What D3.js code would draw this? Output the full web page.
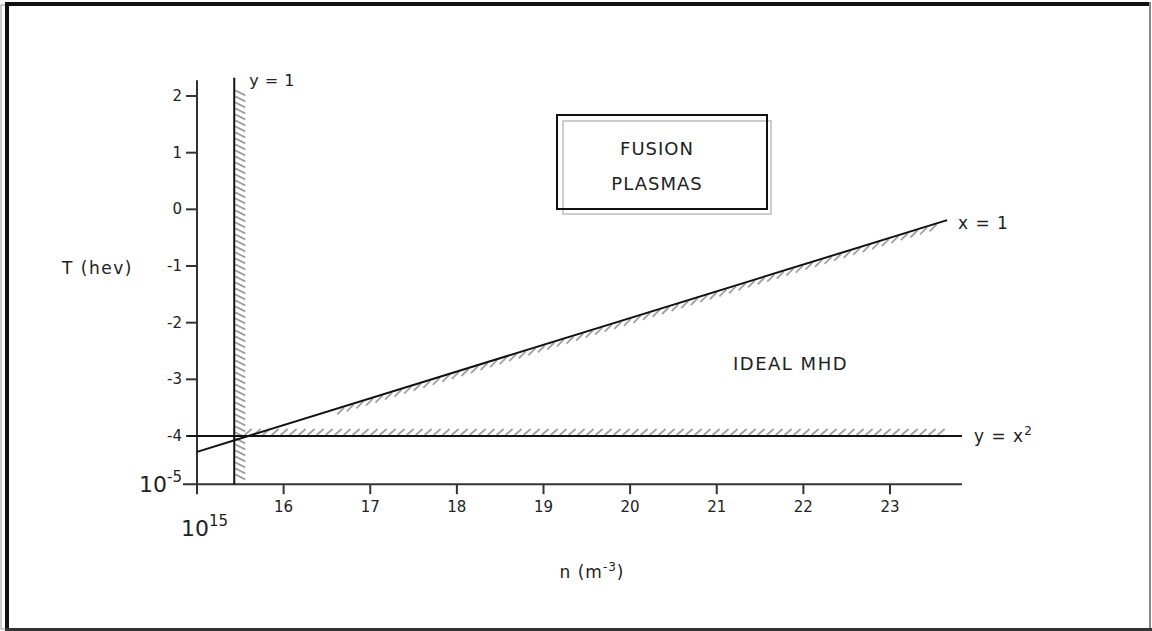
<!DOCTYPE html>
<html>
<head>
<meta charset="utf-8">
<script src="https://cdn.jsdelivr.net/npm/d3@7"></script>
<style>
  body { margin: 0; background: #fff; }
  svg text { font-family: "DejaVu Sans", Verdana, sans-serif; fill: #222; }
</style>
</head>
<body>
<div id="graph"></div>
<script>
const width = 1152, height = 631;
const svg = d3.select("#graph").append("svg").attr("width", width).attr("height", height);

// data (log10 n, log10 T)
const xTicks = [16, 17, 18, 19, 20, 21, 22, 23];
const yTicks = [2, 1, 0, -1, -2, -3, -4];
const xMin = 15, xMax = 23.83;
const yBottom = -4.85, yTop = 2.28;
const lineY1 = {n: 15.43, t0: yBottom, t1: 2.32};          // y = 1 (vertical)
const lineYX2 = {t: -4, n0: 14.9, n1: 23.83};              // y = x^2 (horizontal)
const lineX1 = [{n: 15, t: -4.28}, {n: 23.66, t: -0.19}];  // x = 1 (sloped)

const x = d3.scaleLinear().domain([15, 23]).range([197, 890]);
const y = d3.scaleLinear().domain([-4, 2]).range([436, 96]);

// frame
svg.append("rect").attr("x", 1).attr("y", 5).attr("width", 1149).attr("height", 624)
  .attr("fill", "none").attr("stroke", "#999").attr("stroke-width", 1);
svg.append("line").attr("x1", 5).attr("x2", 1150).attr("y1", 4).attr("y2", 4)
  .attr("stroke", "#111").attr("stroke-width", 4);
svg.append("line").attr("x1", 7).attr("x2", 7).attr("y1", 2).attr("y2", 631)
  .attr("stroke", "#111").attr("stroke-width", 4);
svg.append("line").attr("x1", 1150).attr("x2", 1150).attr("y1", 2).attr("y2", 631)
  .attr("stroke", "#888").attr("stroke-width", 2);
svg.append("line").attr("x1", 5).attr("x2", 1152).attr("y1", 629.5).attr("y2", 629.5)
  .attr("stroke", "#333").attr("stroke-width", 3);

// hatching helper: short strokes along a segment
function hatch(p0, p1, step, dx, dy) {
  const len = Math.hypot(p1[0] - p0[0], p1[1] - p0[1]);
  const n = Math.floor(len / step);
  const g = svg.append("g").attr("stroke", "#a0a0a0").attr("stroke-width", 1.8);
  for (let i = 0; i <= n; i++) {
    const t = i * step / len;
    const px = p0[0] + t * (p1[0] - p0[0]);
    const py = p0[1] + t * (p1[1] - p0[1]);
    g.append("line").attr("x1", px).attr("y1", py).attr("x2", px + dx).attr("y2", py + dy);
  }
}

const tX1 = n => lineX1[0].t + (n - lineX1[0].n) * (lineX1[1].t - lineX1[0].t) / (lineX1[1].n - lineX1[0].n);

// hatches
hatch([x(lineY1.n) + 1, y(2.1)], [x(lineY1.n) + 1, y(yBottom) - 4], 6, 10, 5);
hatch([x(15.55), y(lineYX2.t) - 1], [x(23.6), y(lineYX2.t) - 1], 9, 7, -6);
hatch([x(16.7), y(tX1(16.7)) + 1], [x(23.6), y(tX1(23.6)) + 1], 10, -7, 7);

// y axis
svg.append("line").attr("x1", x(xMin)).attr("x2", x(xMin)).attr("y1", y(yTop)).attr("y2", y(yBottom))
  .attr("stroke", "#333").attr("stroke-width", 2);
svg.selectAll(".ytick").data(yTicks).join("line")
  .attr("x1", x(xMin) - 11).attr("x2", x(xMin)).attr("y1", d => y(d)).attr("y2", d => y(d))
  .attr("stroke", "#333").attr("stroke-width", 2);
svg.selectAll(".ylab").data(yTicks).join("text")
  .attr("x", x(xMin) - 15).attr("y", d => y(d) + 5).attr("text-anchor", "end")
  .attr("font-size", 15).text(d => d);

// x axis
svg.append("line").attr("x1", x(xMin) - 14).attr("x2", x(xMax)).attr("y1", y(yBottom)).attr("y2", y(yBottom))
  .attr("stroke", "#333").attr("stroke-width", 2);
svg.selectAll(".xtick").data([15].concat(xTicks)).join("line")
  .attr("x1", d => x(d)).attr("x2", d => x(d)).attr("y1", y(yBottom)).attr("y2", y(yBottom) + 10)
  .attr("stroke", "#333").attr("stroke-width", 2);
svg.selectAll(".xlab").data(xTicks).join("text")
  .attr("x", d => x(d)).attr("y", y(yBottom) + 28).attr("text-anchor", "middle")
  .attr("font-size", 15).text(d => d);

// large corner labels
const lab5 = svg.append("text").attr("x", x(xMin) - 15).attr("y", y(yBottom) + 8)
  .attr("text-anchor", "end").attr("font-size", 22);
lab5.append("tspan").text("10");
lab5.append("tspan").attr("font-size", 15).attr("dy", -10).text("-5");
const lab15 = svg.append("text").attr("x", 181).attr("y", y(yBottom) + 52).attr("font-size", 22);
lab15.append("tspan").text("10");
lab15.append("tspan").attr("font-size", 15).attr("dy", -10).text("15");

// axis titles
svg.append("text").attr("x", 62).attr("y", 274).attr("font-size", 17).attr("letter-spacing", 1.5).text("T (hev)");
const xt = svg.append("text").attr("x", 592).attr("y", 578).attr("text-anchor", "middle")
  .attr("font-size", 17).attr("letter-spacing", 1);
xt.append("tspan").text("n (m");
xt.append("tspan").attr("font-size", 12).attr("dy", -7).text("-3");
xt.append("tspan").attr("dy", 7).text(")");

// lines
svg.append("line").attr("x1", x(lineY1.n)).attr("x2", x(lineY1.n))
  .attr("y1", y(lineY1.t1)).attr("y2", y(lineY1.t0)).attr("stroke", "#111").attr("stroke-width", 2);
svg.append("line").attr("x1", x(lineYX2.n0)).attr("x2", x(lineYX2.n1))
  .attr("y1", y(lineYX2.t)).attr("y2", y(lineYX2.t)).attr("stroke", "#111").attr("stroke-width", 2);
svg.append("path").datum(lineX1)
  .attr("d", d3.line().x(d => x(d.n)).y(d => y(d.t)))
  .attr("fill", "none").attr("stroke", "#111").attr("stroke-width", 2);

// line labels
svg.append("text").attr("x", x(lineY1.n) + 15).attr("y", 86).attr("font-size", 16).attr("letter-spacing", 0.5).text("y = 1");
svg.append("text").attr("x", 958).attr("y", 229).attr("font-size", 17).attr("letter-spacing", 1).text("x = 1");
const yx = svg.append("text").attr("x", 974).attr("y", 442).attr("font-size", 17).attr("letter-spacing", 1);
yx.append("tspan").text("y = x");
yx.append("tspan").attr("font-size", 12).attr("dy", -7).text("2");

// box
svg.append("rect").attr("x", 563).attr("y", 121).attr("width", 208).attr("height", 93)
  .attr("fill", "none").attr("stroke", "#ccc").attr("stroke-width", 2);
svg.append("rect").attr("x", 557).attr("y", 115).attr("width", 210).attr("height", 94)
  .attr("fill", "none").attr("stroke", "#111").attr("stroke-width", 2);
svg.append("text").attr("x", 657).attr("y", 155).attr("text-anchor", "middle").attr("font-size", 18)
  .attr("letter-spacing", 1).text("FUSION");
svg.append("text").attr("x", 657).attr("y", 190).attr("text-anchor", "middle").attr("font-size", 18)
  .attr("letter-spacing", 1).text("PLASMAS");

svg.append("text").attr("x", 733).attr("y", 370).attr("font-size", 18).attr("letter-spacing", 1.5).text("IDEAL MHD");
</script>
</body>
</html>
